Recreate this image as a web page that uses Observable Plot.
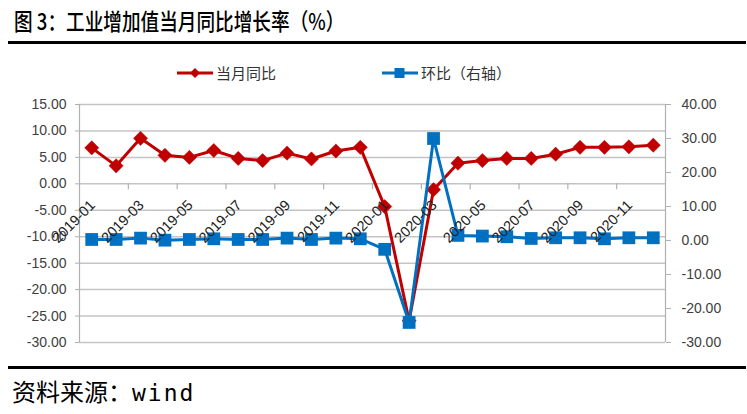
<!DOCTYPE html>
<html><head><meta charset="utf-8">
<script src="https://cdn.jsdelivr.net/npm/d3@7"></script>
<script src="https://cdn.jsdelivr.net/npm/@observablehq/plot@0.6"></script>
<style>
body{margin:0;background:#fff;width:747px;height:414px;overflow:hidden;position:relative;font-family:"Noto Sans CJK SC",sans-serif;}
#title{position:absolute;left:14px;top:3px;font-size:23px;font-weight:500;transform:scaleX(0.81);transform-origin:0 0;white-space:nowrap;color:#000;}
.rule{position:absolute;left:8px;width:738px;height:3px;background:#000;}
.item{position:absolute;top:62px;display:flex;align-items:center;font-size:15px;color:#333;white-space:nowrap;}
.item svg{margin-right:3px;}
#chart{position:absolute;left:0;top:90px;}
#source{position:absolute;left:12px;top:373px;font-size:24px;white-space:nowrap;color:#000;}
#source .en{font-family:"DejaVu Sans Mono",monospace;font-size:23px;letter-spacing:2px;}
</style></head>
<body>
<div id="title">图 3：工业增加值当月同比增长率（%）</div>
<div class="rule" style="top:41px"></div>
<div class="item" style="left:177px"><svg width="36" height="14"><line x1="0" y1="7" x2="36" y2="7" stroke="#C00000" stroke-width="3"/><path d="M18,2 L23,7 L18,12 L13,7Z" fill="#C00000"/></svg><span>当月同比</span></div>
<div class="item" style="left:382px"><svg width="36" height="14"><line x1="0" y1="7" x2="36" y2="7" stroke="#0070C0" stroke-width="3"/><rect x="12.5" y="2" width="10" height="10" fill="#0070C0"/></svg><span>环比（右轴）</span></div>
<div id="chart"></div>
<div class="rule" style="top:366px"></div>
<div id="source">资料来源：<span class="en">wind</span></div>
<script>
const months = ["2019-01","2019-02","2019-03","2019-04","2019-05","2019-06","2019-07","2019-08","2019-09","2019-10","2019-11","2019-12",
                "2020-01","2020-02","2020-03","2020-04","2020-05","2020-06","2020-07","2020-08","2020-09","2020-10","2020-11","2020-12"];
const yoy = [6.8, 3.4, 8.6, 5.4, 5.0, 6.3, 4.8, 4.4, 5.8, 4.7, 6.2, 6.9,
             -4.3, -25.9, -1.1, 3.9, 4.4, 4.8, 4.8, 5.6, 6.9, 6.9, 7.0, 7.3];
const mom = [0.3, 0.3, 0.7, 0.1, 0.3, 0.5, 0.3, 0.3, 0.7, 0.3, 0.7, 0.5,
             -2.6, -24.1, 30.0, 1.5, 1.3, 1.1, 0.6, 0.8, 0.8, 0.5, 0.8, 0.8];
const leftTicks = [15, 10, 5, 0, -5, -10, -15, -20, -25, -30];
const rightTicks = [40, 30, 20, 10, 0, -10, -20, -30];

const L0 = -30, L1 = 15, R0 = -30, R1 = 40;
const toLeft = v => L0 + (v - R0) * (L1 - L0) / (R1 - R0);
const fromLeft = y => R0 + (y - L0) * (R1 - R0) / (L1 - L0);
const fmt = v => { const r = Math.round(v * 100) / 100; return (r === 0 ? 0 : r).toFixed(2); };

const yoyData = months.map((m, i) => ({i, m, v: yoy[i]}));
const momData = months.map((m, i) => ({i, m, v: toLeft(mom[i])}));
const labelData = months.map((m, i) => ({i, m})).filter(d => d.i % 2 === 0);
const tickPos = months.map((m, i) => i).filter(i => i > 0 && i % 2 === 0 && i < months.length - 1).map(i => i - 0.5);
const xMin = -0.5, xMax = months.length - 0.5;

const chart = Plot.plot({
  width: 747, height: 270,
  marginTop: 14, marginBottom: 18, marginLeft: 79, marginRight: 82,
  style: {fontFamily: "'Liberation Sans', sans-serif", fontSize: "14px", color: "#404040", background: "transparent"},
  x: {type: "linear", domain: [xMin, xMax], axis: null},
  y: {domain: [L0, L1], axis: null},
  marks: [
    Plot.ruleY(leftTicks, {stroke: "#c4c4c4", strokeWidth: 1.5}),
    Plot.ruleX([xMin, xMax], {y1: L0, y2: L1, stroke: "#b0b0b0", strokeWidth: 1.2}),
    Plot.axisY(leftTicks, {anchor: "left", tickSize: 4, tickPadding: 9, stroke: "#b0b0b0", fill: "#404040", tickFormat: fmt, label: null}),
    Plot.axisY(rightTicks.map(toLeft), {anchor: "right", tickSize: 5, tickPadding: 11, stroke: "#b0b0b0", fill: "#404040", tickFormat: d => fmt(fromLeft(d)), label: null}),
    Plot.ruleX(tickPos, {y1: 0, y2: -1.1, stroke: "#b0b0b0", strokeWidth: 1.2}),
    Plot.line(yoyData, {x: "i", y: "v", stroke: "#C00000", strokeWidth: 3}),
    Plot.dot(yoyData, {x: "i", y: "v", symbol: "diamond2", r: 6.4, fill: "#C00000", stroke: "#C00000", strokeWidth: 0.5}),
    Plot.line(momData, {x: "i", y: "v", stroke: "#0070C0", strokeWidth: 3}),
    Plot.dot(momData, {x: "i", y: "v", symbol: "square", r: 7.2, fill: "#0070C0"}),
    Plot.text(labelData, {x: "i", y: () => 0, text: "m", rotate: -45, textAnchor: "end", dx: 1, dy: 19, fill: "#222", fontSize: 14.5})
  ]
});
document.getElementById("chart").appendChild(chart);
</script>
</body></html>
